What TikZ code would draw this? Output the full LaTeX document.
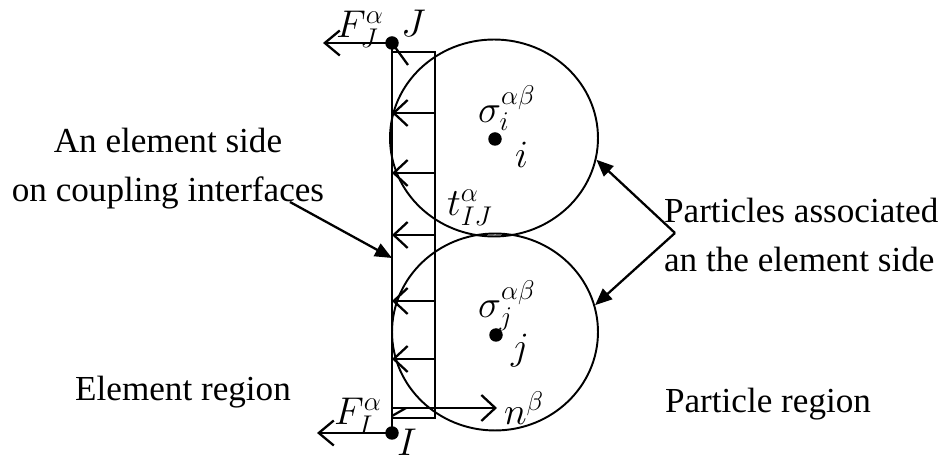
\documentclass[tikz,border=0pt]{standalone}
\usepackage{fix-cm}
\usepackage{fontspec}
\setmainfont{Liberation Serif}
\usetikzlibrary{arrows.meta,positioning,shapes.geometric}

\tikzset{
  particle/.style={ellipse,draw,inner sep=0pt,minimum width=4.16cm,minimum height=3.94cm},
  dotmark/.style={circle,fill,inner sep=0pt,minimum size=0.27cm},
  traction/.style={-{Straight Barb[length=0.28cm,width=0.52cm]}},
  force/.style={-{Straight Barb[length=0.3cm,width=0.5cm]}},
  pointer/.style={-{Triangle[length=0.34cm,width=0.28cm]}},
  lbl/.style={inner sep=0pt,anchor=base west,font=\fontsize{22}{26}\selectfont}
}

\begin{document}
\begin{tikzpicture}[x=0.02cm,y=-0.02cm,line width=1.3pt,
  every node/.style={font=\fontsize{20}{28}\selectfont}]
  \useasboundingbox (0,0) rectangle (948,462);

  % element side with its two end nodes
  \node[dotmark] (J) at (392,43) {};
  \node[dotmark] (I) at (392,433) {};
  \coordinate (rt) at (435,52);
  \coordinate (rb) at (435,418);
  \draw (J.center) -- (I.center);
  \draw (J.center |- rt) -- (rt) -- (rb) -- (rb -| I.center);
  \draw (J.center) -- ++(16,22);
  \draw (I.center |- 0,416) -- ++(14,-8);

  % tractions along the side
  \foreach \y in {113,173,235,301,359}
    \draw[traction] (rt |- 0,\y) -- (J.center |- 0,\y);

  % nodal forces and outward normal
  \draw[force] (J.center) -- ++(-69,0);
  \draw[force] (I.center) -- ++(-75,0);
  \coordinate (ntip) at (497,408);
  \draw[traction] (I.center |- ntip) -- (ntip);

  % the two particles
  \node[particle,line width=1.1pt] (pi) at (494,138) {};
  \node[particle,line width=1.1pt,minimum width=4.12cm] (pj) at (495,332) {};
  \node[dotmark] (ci) at (495,139) {};
  \node[dotmark] (cj) at (496,335) {};

  % symbols
  \node[lbl] at (335,38) {$F_J^{\alpha}$};
  \node[lbl] at (400,37) {$J$};
  \node[lbl] at (333,425) {$F_I^{\alpha}$};
  \node[lbl] at (396,456) {$I$};
  \node[lbl] at (503,425) {$n^{\beta}$};
  \node[lbl] at (477,123) {$\sigma_i^{\alpha\beta}$};
  \node[lbl] at (514,168) {$i$};
  \node[lbl] at (477,318) {$\sigma_j^{\alpha\beta}$};
  \node[lbl] at (510,360) {$j$};
  \node[lbl] at (446,216) {$t_{IJ}^{\alpha}$};

  % captions
  \node[align=center,inner sep=0pt] (side) at (168,169)
    {An element side\\on coupling interfaces};
  \node[align=left,inner sep=0pt,anchor=west] (assoc) at (663,235)
    {Particles associated\\an the element side};
  \node (ereg) at (183,392) {Element region};
  \node (preg) at (768,404) {Particle region};

  % pointers
  \coordinate (ls) at (290,202);
  \coordinate (rs) at (675,233);
  \draw[pointer] (ls) -- (J.center |- 0,258);
  \draw[pointer] (rs) -- (pi.-12);
  \draw[pointer] (rs) -- (pj.15);
\end{tikzpicture}
\end{document}
